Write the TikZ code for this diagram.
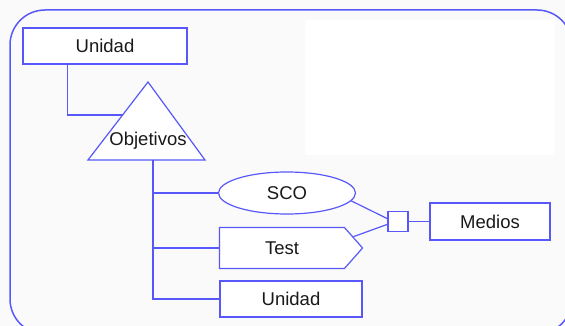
\documentclass[tikz,border=0pt]{standalone}
\usepackage{fontspec}
\setmainfont{Liberation Sans}
\usepackage{tikz}
\usetikzlibrary{shapes.geometric,shapes.symbols}

\definecolor{lineblue}{RGB}{88,88,250}
\definecolor{paper}{RGB}{250,250,250}

\tikzset{
	wire/.style={draw=lineblue, line width=1.2pt},
	bx/.style={draw=lineblue, line width=1.2pt, fill=white, inner sep=0pt,
		font=\fontsize{18.5}{20}\selectfont, text=black!90},
}

\begin{document}
\begin{tikzpicture}[x=1pt,y=-1pt]
				\useasboundingbox (0,0) rectangle (565,326);
				\fill[paper] (0,0) rectangle (565,326);
				\draw[lineblue, line width=1.5pt, rounded corners=35pt, fill=paper] (10,10) rectangle (572,334);
				\fill[white] (305,20) rectangle (555,155);
				
				% the unit and its goals
				\node[bx, minimum width=164pt, minimum height=36pt] (unidadA) at (105,46) {Unidad};
				\draw[lineblue, line width=1.2pt, fill=white] (148,82) -- (205,160) -- (88,160) -- cycle;
				\node[font=\fontsize{18.5}{20}\selectfont, text=black!90] (obj) at (148,141) {Objetivos};
				\coordinate (objleft) at (122.5,115);
				\coordinate (trunk) at (153,160);
				
				% content hanging below the goals
				\node[bx, ellipse, minimum width=137pt, minimum height=42pt] (sco) at (287,193) {SCO};
				\node[bx, signal, signal to=east, signal pointer angle=97,
					minimum width=143pt, minimum height=41pt] (test) at (282,248) {Test};
				\node[bx, minimum width=142pt, minimum height=36pt] (unidadB) at (291,299) {Unidad};
				
				% resources
				\node[bx, minimum size=20pt] (join) at (398,221.5) {};
				\node[bx, minimum width=120pt, minimum height=37pt] (medios) at (490,221.5) {Medios};
				
				\draw[wire] (unidadA.south west) ++(45,0) |- (objleft);
				\draw[wire] (trunk) |- (unidadB.west);
				\draw[wire] (trunk |- sco.west) -- (sco.west);
				\draw[wire] (trunk |- test.west) -- (test.west);
				\draw[wire] (sco.-7) -- (join.165);
				\draw[wire] (test.9) -- (join.195);
				\draw[wire] (join.east) -- (medios.west);
			\end{tikzpicture}
\end{document}
